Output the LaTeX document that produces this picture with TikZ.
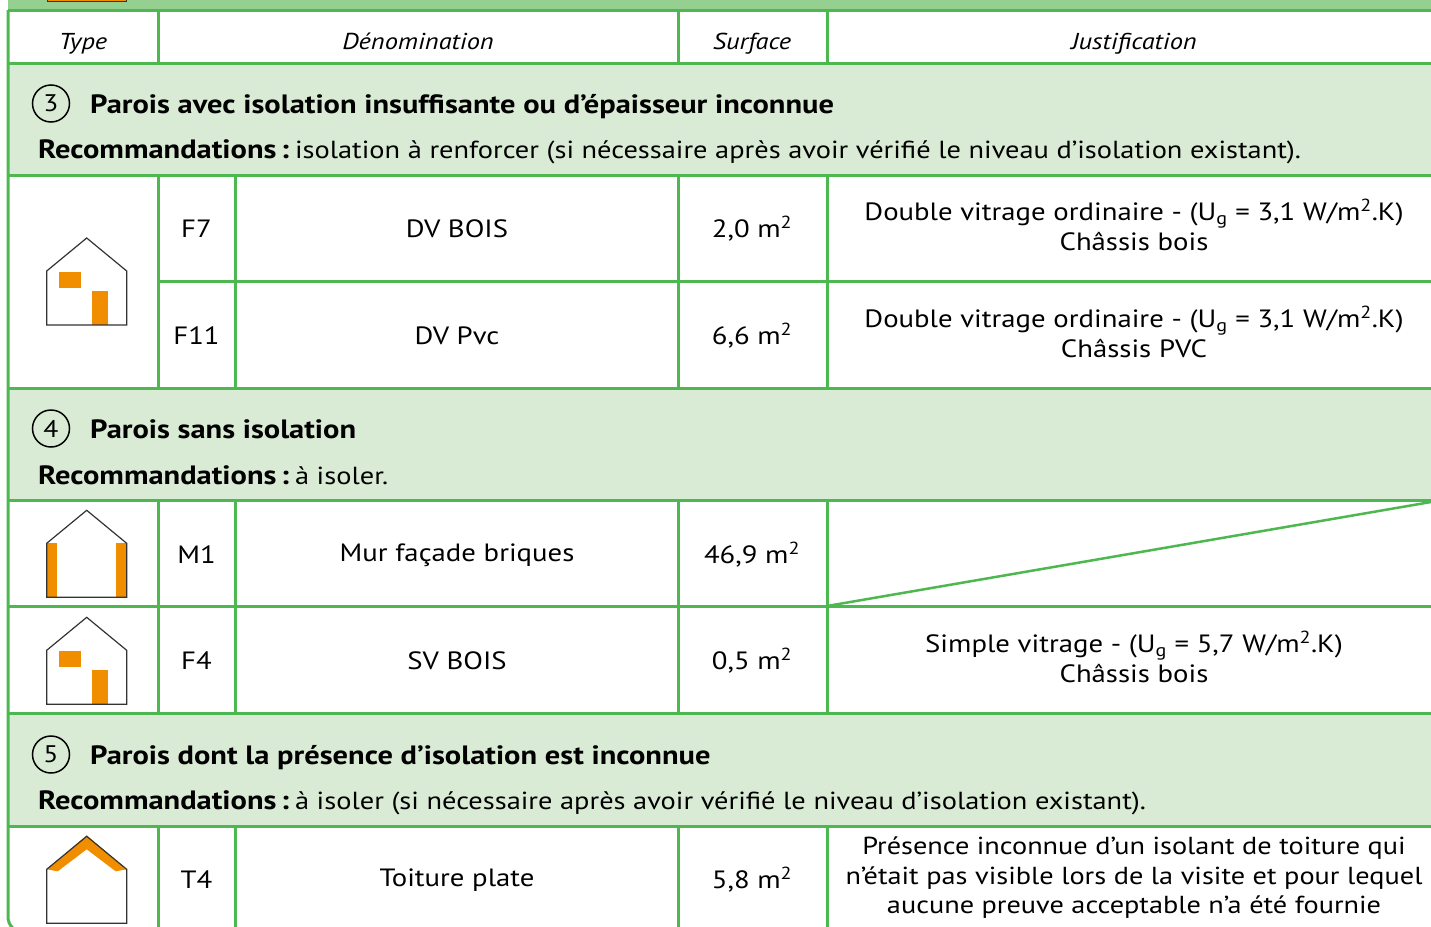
\documentclass[tikz,border=0pt]{standalone}
\usepackage{fontspec}
\setmainfont{PT Sans}[FakeStretch=1.15]
\usepackage{tikz}

\definecolor{vert}{HTML}{4DB850}
\definecolor{vertclair}{HTML}{DAEBD5}
\definecolor{vertfonce}{HTML}{96D090}
\definecolor{orange}{HTML}{F18E00}

\newcommand{\recom}{{\bfseries\fontsize{26.5}{30}\selectfont Recommandations\,:}\hspace{6pt}}

\tikzset{
  trait/.style={draw=vert, line width=3pt},
  entete/.style={font=\itshape\fontsize{23}{27}\selectfont, anchor=base},
  cell/.style={font=\fontsize{25}{29.5}\selectfont, align=center, inner sep=0pt},
  titre/.style={font=\bfseries\fontsize{26.5}{30}\selectfont, anchor=base west, inner sep=0pt},
  reco/.style={font=\fontsize{24.7}{29}\selectfont, anchor=base west, inner sep=0pt},
  rond/.style={circle, draw, line width=1.5pt, minimum size=37pt, inner sep=0pt, font=\fontsize{24}{28}\selectfont},
  maison/.pic={\draw[black!80, line width=1.2pt] (0,0) -- (0,-54) -- (40,-87) -- (80,-54) -- (80,0) -- cycle;},
  fenetre/.pic={
    \fill[orange] (12,-53) rectangle (34,-37);
    \fill[orange] (45,0) rectangle (61,-34);
    \pic {maison};},
  mur/.pic={
    \fill[orange] (0,0) rectangle (10.5,-54);
    \fill[orange] (69,0) rectangle (80,-54);
    \pic {maison};},
  toit/.pic={
    \fill[orange] (0,-54) -- (40,-88) -- (80,-54) -- (69,-52) -- (40,-74) -- (11,-52) -- cycle;
    \pic {maison};}
}

\begin{document}
\begin{tikzpicture}[x=1pt,y=-1pt]
  \useasboundingbox (0,0) rectangle (1431,926);

  % bandeaux
  \fill[vertfonce] (8,0) rectangle (1431,10);
  \filldraw[fill=orange, draw=black!80, line width=1pt] (47,-3) rectangle (126,1);
  \foreach \a/\b in {63/175, 388/500, 713/826}
    \fill[vertclair] (8,\a) rectangle (1431,\b);

  % grille
  \foreach \y in {10,63,175,388,500,606,713,826}
    \draw[trait] (8,\y) -- (1431,\y);
  \draw[trait] (158,281) -- (1431,281);
  \foreach \x in {158,678,827}
    \draw[trait] (\x,10) -- (\x,63);
  \foreach \x in {158,235,678,827}
    \foreach \a/\b in {175/388, 500/713, 826/932}
      \draw[trait] (\x,\a) -- (\x,\b);
  \draw[trait, rounded corners=15pt] (8,10) -- (8,932) -- (1431,932);
  \draw[vert, line width=2.5pt] (827,606) -- (1431,502);

  % entete
  \node[entete] (type) at (83,49) {Type};
  \node[entete] (deno) at (418,49) {Dénomination};
  \node[entete] (surf) at (752,49) {Surface};
  \node[entete] (just) at (1134,49) {Justification};

  % sections
  \node[rond] (r3) at (51,103.5) {3};
  \node[titre] (t3) at (90,113) {Parois avec isolation insuffisante ou d’épaisseur inconnue};
  \node[reco] (p3) at (38,158) {\recom isolation à renforcer (si nécessaire après avoir vérifié le niveau d’isolation existant).};
  \node[rond] (r4) at (51,428.5) {4};
  \node[titre] (t4) at (90,438) {Parois sans isolation};
  \node[reco] (p4) at (38,484) {\recom à isoler.};
  \node[rond] (r5) at (51,754.5) {5};
  \node[titre] (t5) at (90,764) {Parois dont la présence d’isolation est inconnue};
  \node[reco] (p5) at (38,809) {\recom à isoler (si nécessaire après avoir vérifié le niveau d’isolation existant).};

  % lignes
  \foreach \y/\code/\nom/\surf in {229/F7/DV BOIS/{2,0}, 336/F11/DV Pvc/{6,6}, 555/M1/Mur façade briques/{46,9}, 661/F4/SV BOIS/{0,5}, 880/T4/Toiture plate/{5,8}}{
    \node[cell] (c\code) at (196.5,\y) {\code};
    \node[cell] (n\code) at (457,\y) {\nom};
    \node[cell] (s\code) at (752,\y) {\surf\ m\textsuperscript{2}};
  }
  \node[cell] (jF7) at (1134,225) {Double vitrage ordinaire - (U\textsubscript{g} = 3,1 W/m\textsuperscript{2}.K)\\Châssis bois};
  \node[cell] (jF11) at (1134,332) {Double vitrage ordinaire - (U\textsubscript{g} = 3,1 W/m\textsuperscript{2}.K)\\Châssis PVC};
  \node[cell] (jF4) at (1134,657) {Simple vitrage - (U\textsubscript{g} = 5,7 W/m\textsuperscript{2}.K)\\Châssis bois};
  \node[cell, font=\fontsize{24.6}{29.5}\selectfont] (jT4) at (1134,878) {Présence inconnue d'un isolant de toiture qui\\n’était pas visible lors de la visite et pour lequel\\aucune preuve acceptable n'a été fournie};

  % maisons
  \pic at (46.7,325) {fenetre};
  \pic at (46.7,597.3) {mur};
  \pic at (46.7,704.3) {fenetre};
  \pic at (46.7,923.3) {toit};
\end{tikzpicture}
\end{document}
